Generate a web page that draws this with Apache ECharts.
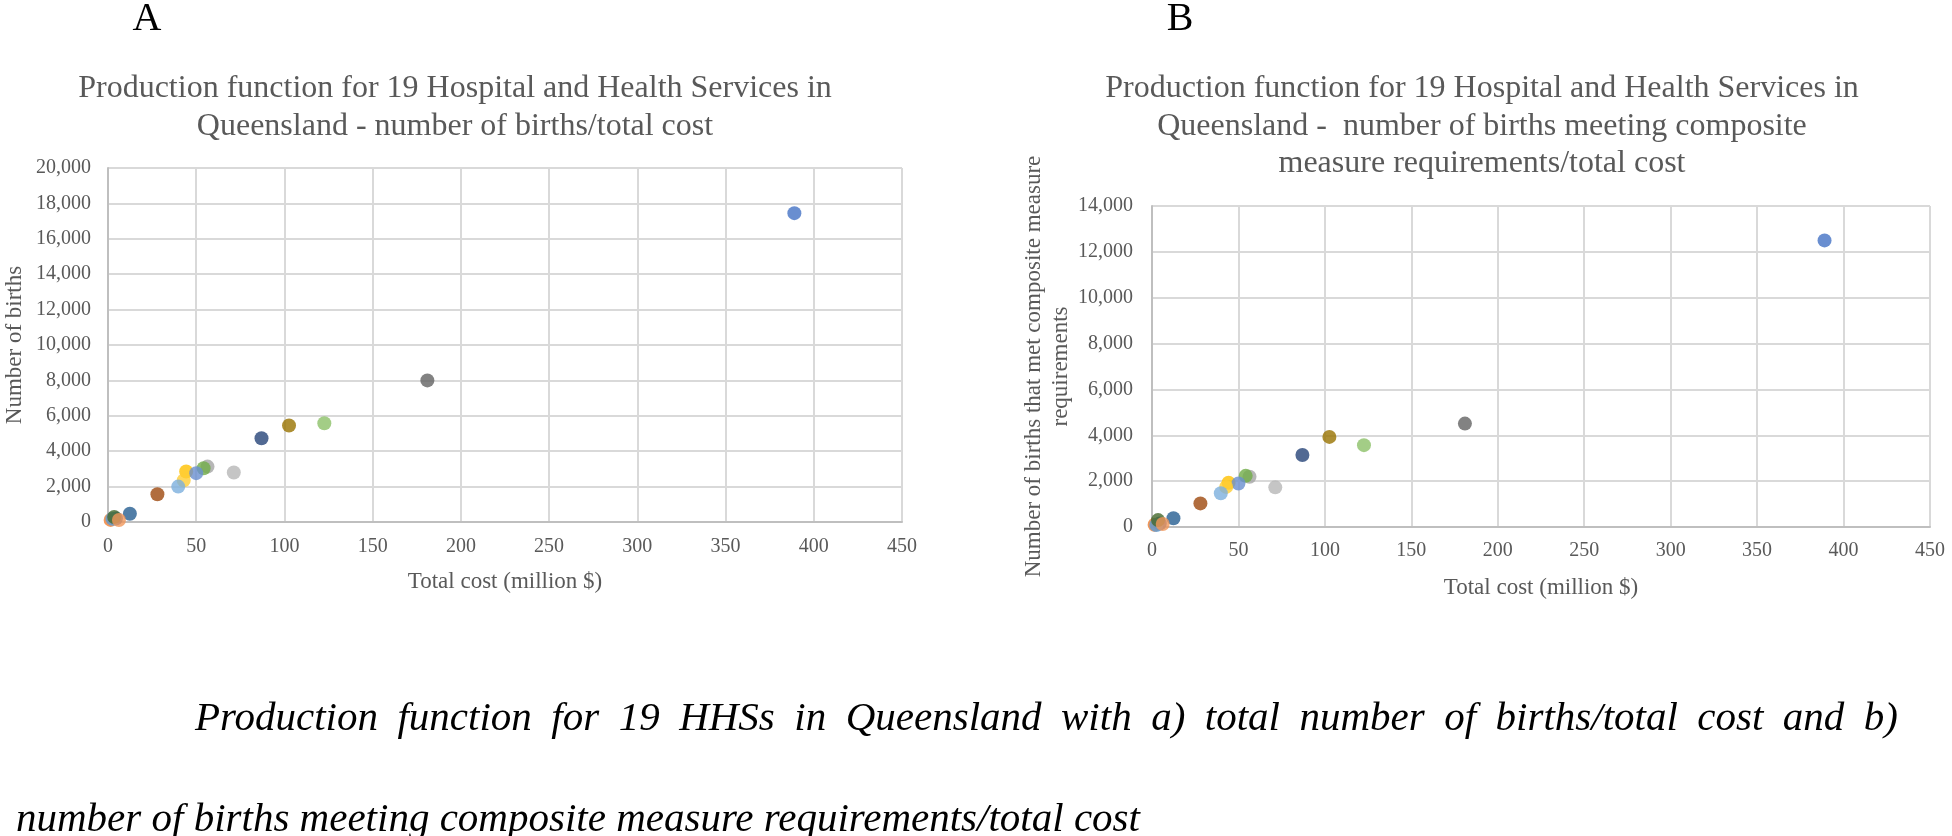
<!DOCTYPE html>
<html><head><meta charset="utf-8">
<script src="https://cdn.jsdelivr.net/npm/echarts@6/dist/echarts.min.js"></script>
<style>html,body{margin:0;padding:0;background:#fff;overflow:hidden}#c{width:1952px;height:836px}</style>
</head><body><div id="c"></div>
<script>
// ---- data (19 Hospital and Health Services) ----
const hhsColors = ['#335AA1','#4472C4','#ED7D31','#A5A5A5','#FFC000','#5B9BD5','#70AD47',
  '#264478','#9E480E','#636363','#997300','#255E91','#43682B',
  '#698ED0','#F1975A','#B7B7B7','#FFCD33','#7CAFDD','#8CC168'];
const totalCost = [4.5, 389, 1.5, 56.4, 44.3, 2.5, 54.2, 87, 28, 181, 102.6, 12.4, 3.5, 50, 6.2, 71.3, 42.9, 39.8, 122.6];
const birthsTotal = [200, 17450, 120, 3130, 2850, 180, 3040, 4730, 1570, 8000, 5450, 470, 280, 2760, 110, 2800, 2350, 2000, 5580];
const birthsComposite = [150, 12500, 100, 2190, 1930, 90, 2230, 3140, 1030, 4510, 3930, 380, 300, 1900, 130, 1730, 1750, 1470, 3570];
const xTicks = [0, 50, 100, 150, 200, 250, 300, 350, 400, 450];
const yTicksA = [0, 2000, 4000, 6000, 8000, 10000, 12000, 14000, 16000, 18000, 20000];
const yTicksB = [0, 2000, 4000, 6000, 8000, 10000, 12000, 14000];

const titleA = ['Production function for 19 Hospital and Health Services in', 'Queensland - number of births/total cost'];
const titleB = ['Production function for 19 Hospital and Health Services in', 'Queensland -  number of births meeting composite', 'measure requirements/total cost'];
const xName = 'Total cost (million $)';
const yNameA = 'Number of births';
const yNameB = 'Number of births that met composite measure\nrequirements';
const caption1 = 'Production function for 19 HHSs in Queensland with a) total number of births/total cost and b)';
const caption2 = 'number of births meeting composite measure requirements/total cost';

const FONT = '"Liberation Serif", "Times New Roman", serif';
const GRAY = '#595959';

function pts(ys) {
  return totalCost.map((x, i) => ({ value: [x, ys[i]], itemStyle: { color: hhsColors[i] } }));
}
const fmt = v => v.toLocaleString('en-US');

function xAxisCfg(grid, gap, margin) {
  return {
    type: 'value', gridIndex: grid, min: xTicks[0], max: xTicks[xTicks.length - 1], interval: xTicks[1] - xTicks[0],
    axisLine: { show: true, lineStyle: { color: '#BFBFBF', width: 2 } },
    axisTick: { show: false },
    splitLine: { show: true, lineStyle: { color: '#D9D9D9', width: 2 } },
    axisLabel: { color: GRAY, fontSize: 20, fontFamily: FONT, margin: margin },
    name: xName, nameLocation: 'middle', nameGap: gap,
    nameTextStyle: { color: GRAY, fontSize: 23, fontFamily: FONT }
  };
}
function yAxisCfg(grid, ticks, name, gap, margin) {
  return {
    type: 'value', gridIndex: grid, min: ticks[0], max: ticks[ticks.length - 1], interval: ticks[1] - ticks[0],
    axisLine: { show: true, lineStyle: { color: '#BFBFBF', width: 2 } },
    axisTick: { show: false },
    splitLine: { show: true, lineStyle: { color: '#D9D9D9', width: 2 } },
    axisLabel: { color: GRAY, fontSize: 20, fontFamily: FONT, margin: margin, formatter: fmt },
    name: name, nameLocation: 'middle', nameGap: gap, nameRotate: 90,
    nameTextStyle: { color: GRAY, fontSize: 23, fontFamily: FONT, lineHeight: 27 }
  };
}

function txt(text, x, y, size, color, align, italic) {
  return {
    type: 'text', x: x, y: y, silent: true,
    style: {
      text: text, fill: color, fontSize: size, fontFamily: FONT,
      fontStyle: italic ? 'italic' : 'normal',
      align: align, verticalAlign: 'middle', textAlign: align, textVerticalAlign: 'middle'
    }
  };
}

const graphics = [];
graphics.push(txt('A', 147, 19, 40, '#000', 'center'));
graphics.push(txt('B', 1180, 19, 40, '#000', 'center'));
titleA.forEach((t, i) => graphics.push(txt(t, 455, 89 + i * 38, 32, GRAY, 'center')));
titleB.forEach((t, i) => graphics.push(txt(t, 1482, 89 + i * 37.5, 32, GRAY, 'center')));

// justified first caption line
(function () {
  const cv = document.createElement('canvas');
  const ctx = cv.getContext('2d');
  const size = 41;
  ctx.font = 'italic ' + size + 'px ' + FONT;
  const words = caption1.split(' ');
  const widths = words.map(w => ctx.measureText(w).width);
  const total = widths.reduce((a, b) => a + b, 0);
  const x0 = 195, x1 = 1898;
  const gap = (x1 - x0 - total) / (words.length - 1);
  let x = x0;
  words.forEach((w, i) => {
    graphics.push(txt(w, x, 719, size, '#000', 'left', true));
    x += widths[i] + gap;
  });
  graphics.push(txt(caption2, 16, 820, size, '#000', 'left', true));
})();

const chart = echarts.init(document.getElementById('c'));
chart.setOption({
  animation: false,
  backgroundColor: '#fff',
  grid: [
    { left: 102, right: 1952 - 902, top: 168, bottom: 836 - 522, containLabel: false },
    { left: 1152, right: 1952 - 1930, top: 206, bottom: 836 - 527, containLabel: false }
  ],
  xAxis: [xAxisCfg(0, 48, 15), xAxisCfg(1, 49, 14)],
  yAxis: [yAxisCfg(0, yTicksA, yNameA, 80, 17), yAxisCfg(1, yTicksB, yNameB, 78, 19)],
  series: [
    { type: 'scatter', xAxisIndex: 0, yAxisIndex: 0, symbolSize: 14, data: pts(birthsTotal) },
    { type: 'scatter', xAxisIndex: 1, yAxisIndex: 1, symbolSize: 14, data: pts(birthsComposite) }
  ],
  graphic: graphics
});
</script>
</body></html>
